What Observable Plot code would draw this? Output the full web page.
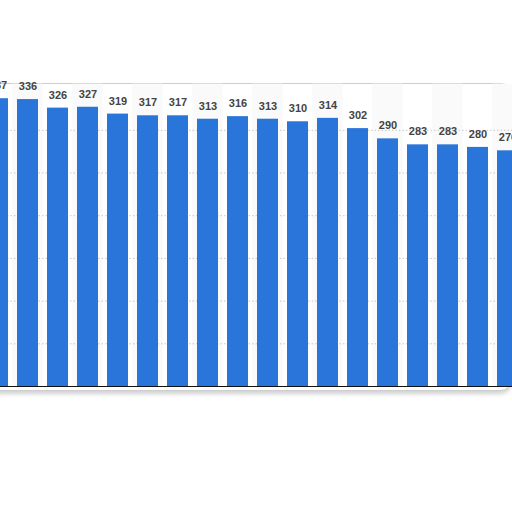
<!DOCTYPE html>
<html>
<head>
<meta charset="utf-8">
<script src="https://cdn.jsdelivr.net/npm/d3@7"></script>
<script src="https://cdn.jsdelivr.net/npm/@observablehq/plot@0.6"></script>
<style>
  html, body { margin: 0; padding: 0; background: #ffffff; overflow: hidden; }
  #wrap { position: relative; width: 512px; height: 512px; }
  #panel {
    position: absolute; left: -12px; top: 83px; width: 521px; height: 306px;
    background: #ffffff; border: 1px solid #cfcfcf; border-radius: 10px;
    box-shadow: 0 3px 4px rgba(0,0,0,0.18);
  }
  #chart { position: absolute; left: 0; top: 0; }
</style>
</head>
<body>
<div id="wrap"><div id="panel"></div><div id="chart"></div></div>
<script>
const categories = ["c1","c2","c3","c4","c5","c6","c7","c8","c9","c10","c11","c12","c13","c14","c15","c16","c17","c18"];
const values = [337, 336, 326, 327, 319, 317, 317, 313, 316, 313, 310, 314, 302, 290, 283, 283, 280, 276];
const gridTicks = [50, 100, 150, 200, 250, 300];
const yMax = 354;

const data = categories.map((c, i) => ({cat: c, value: values[i], idx: i}));
const stripes = data.filter(d => d.idx % 2 === 1);

const chart = Plot.plot({
  width: 512,
  height: 512,
  margin: 0,
  style: {background: "transparent", overflow: "visible"},
  x: {type: "band", domain: categories, range: [-21.2, 526.5], paddingInner: 0.31, paddingOuter: 0.155, axis: null},
  y: {domain: [0, yMax], range: [386, 83.7], axis: null},
  marks: [
    Plot.barY(stripes, {x: "cat", y: () => yMax, fill: "#fafafa", insetLeft: -4.7, insetRight: -4.7}),
    Plot.ruleY(gridTicks, {stroke: "#c8c8c8", strokeDasharray: "1.5,2", strokeWidth: 1}),
    Plot.barY(data, {x: "cat", y: "value", fill: "#2a75d9"}),
    Plot.ruleY([0], {stroke: "#111111", strokeWidth: 1.2}),
    Plot.text(data, {x: "cat", y: "value", text: d => String(d.value), dy: -13, lineAnchor: "middle",
      fill: "#444444", fontWeight: "bold", fontSize: 11, fontFamily: "Liberation Sans, Arial, sans-serif"})
  ]
});
document.getElementById("chart").appendChild(chart);
</script>
</body>
</html>
